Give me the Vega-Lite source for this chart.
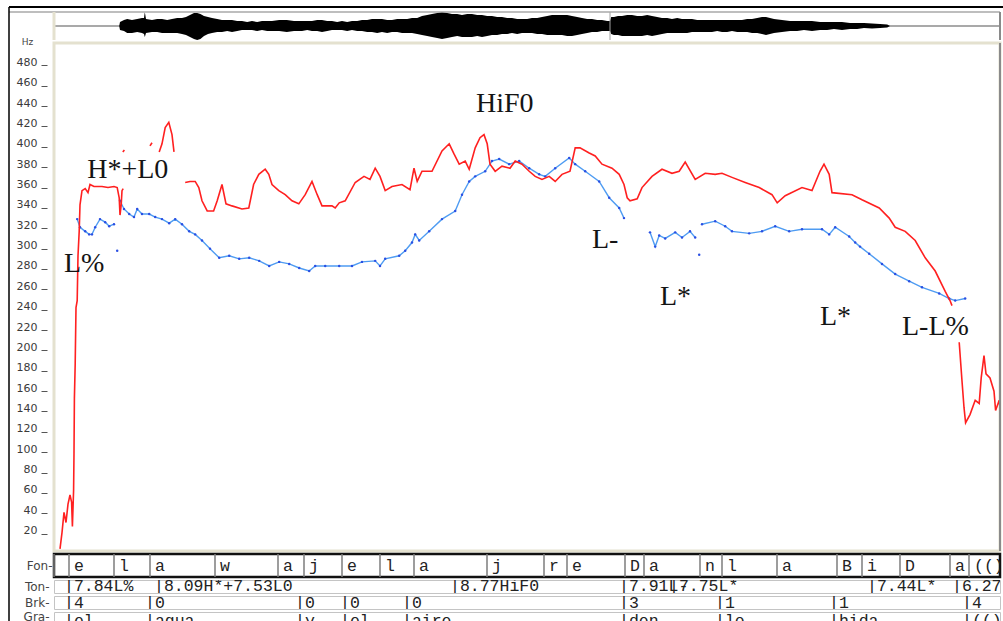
{
  "$schema": "https://vega.github.io/schema/vega-lite/v6.json",
  "background": "white",
  "padding": {"left": 6, "top": 5, "right": 0, "bottom": 0},
  "spacing": 3,
  "bounds": "flush",
  "config": {"view": {"stroke": null}, "axis": {"grid": false}},
  "datasets": {
    "wave": [
      {"ms":163,"hi":0,"lo":0},{"ms":165,"hi":4,"lo":-4},{"ms":175,"hi":6,"lo":-5},{"ms":183,"hi":7,"lo":-7},{"ms":195,"hi":6,"lo":-7},{"ms":208,"hi":7,"lo":-6},{"ms":220,"hi":8,"lo":-7},{"ms":225,"hi":8,"lo":-8},{"ms":227,"hi":14,"lo":-11},{"ms":230,"hi":7,"lo":-7},{"ms":245,"hi":6,"lo":-6},{"ms":258,"hi":7,"lo":-6},{"ms":270,"hi":7,"lo":-7},{"ms":283,"hi":6,"lo":-7},{"ms":295,"hi":7,"lo":-7},{"ms":308,"hi":8,"lo":-7},{"ms":320,"hi":8,"lo":-8},{"ms":330,"hi":9,"lo":-9},{"ms":340,"hi":11,"lo":-11},{"ms":350,"hi":13,"lo":-13},{"ms":358,"hi":13,"lo":-14},{"ms":366,"hi":12,"lo":-13},{"ms":375,"hi":10,"lo":-10},{"ms":385,"hi":9,"lo":-8},{"ms":395,"hi":8,"lo":-7},{"ms":408,"hi":7,"lo":-6},{"ms":420,"hi":6,"lo":-6},{"ms":433,"hi":6,"lo":-5},{"ms":445,"hi":6,"lo":-6},{"ms":458,"hi":5,"lo":-5},{"ms":470,"hi":5,"lo":-4},{"ms":483,"hi":4,"lo":-4},{"ms":495,"hi":5,"lo":-4},{"ms":508,"hi":4,"lo":-5},{"ms":520,"hi":5,"lo":-4},{"ms":533,"hi":5,"lo":-5},{"ms":545,"hi":5,"lo":-5},{"ms":563,"hi":6,"lo":-5},{"ms":582,"hi":6,"lo":-6},{"ms":600,"hi":5,"lo":-5},{"ms":620,"hi":5,"lo":-5},{"ms":633,"hi":5,"lo":-4},{"ms":645,"hi":5,"lo":-5},{"ms":658,"hi":6,"lo":-5},{"ms":670,"hi":6,"lo":-6},{"ms":683,"hi":5,"lo":-5},{"ms":695,"hi":5,"lo":-4},{"ms":708,"hi":4,"lo":-4},{"ms":720,"hi":5,"lo":-4},{"ms":733,"hi":4,"lo":-5},{"ms":745,"hi":5,"lo":-4},{"ms":758,"hi":5,"lo":-5},{"ms":770,"hi":6,"lo":-5},{"ms":783,"hi":6,"lo":-6},{"ms":795,"hi":7,"lo":-6},{"ms":808,"hi":7,"lo":-7},{"ms":820,"hi":7,"lo":-6},{"ms":833,"hi":6,"lo":-7},{"ms":845,"hi":6,"lo":-6},{"ms":858,"hi":7,"lo":-6},{"ms":870,"hi":7,"lo":-7},{"ms":883,"hi":7,"lo":-7},{"ms":895,"hi":8,"lo":-7},{"ms":908,"hi":8,"lo":-8},{"ms":920,"hi":10,"lo":-9},{"ms":933,"hi":11,"lo":-10},{"ms":945,"hi":12,"lo":-11},{"ms":958,"hi":13,"lo":-12},{"ms":970,"hi":14,"lo":-13},{"ms":983,"hi":13,"lo":-12},{"ms":995,"hi":12,"lo":-11},{"ms":1008,"hi":12,"lo":-10},{"ms":1020,"hi":11,"lo":-11},{"ms":1033,"hi":12,"lo":-11},{"ms":1045,"hi":12,"lo":-11},{"ms":1058,"hi":11,"lo":-10},{"ms":1070,"hi":11,"lo":-11},{"ms":1083,"hi":10,"lo":-10},{"ms":1095,"hi":10,"lo":-9},{"ms":1108,"hi":9,"lo":-9},{"ms":1120,"hi":9,"lo":-8},{"ms":1133,"hi":8,"lo":-8},{"ms":1145,"hi":8,"lo":-7},{"ms":1158,"hi":7,"lo":-8},{"ms":1170,"hi":7,"lo":-7},{"ms":1183,"hi":7,"lo":-7},{"ms":1195,"hi":8,"lo":-7},{"ms":1208,"hi":8,"lo":-8},{"ms":1220,"hi":9,"lo":-8},{"ms":1233,"hi":10,"lo":-9},{"ms":1245,"hi":11,"lo":-9},{"ms":1258,"hi":11,"lo":-9},{"ms":1270,"hi":11,"lo":-9},{"ms":1283,"hi":11,"lo":-10},{"ms":1295,"hi":10,"lo":-10},{"ms":1308,"hi":9,"lo":-9},{"ms":1320,"hi":8,"lo":-8},{"ms":1333,"hi":7,"lo":-7},{"ms":1345,"hi":7,"lo":-6},{"ms":1358,"hi":6,"lo":-6},{"ms":1370,"hi":6,"lo":-5},{"ms":1383,"hi":5,"lo":-5},{"ms":1390,"hi":5,"lo":-5},{"ms":1393,"hi":9,"lo":-8},{"ms":1400,"hi":9,"lo":-9},{"ms":1410,"hi":10,"lo":-9},{"ms":1420,"hi":10,"lo":-10},{"ms":1433,"hi":11,"lo":-10},{"ms":1445,"hi":11,"lo":-10},{"ms":1458,"hi":10,"lo":-10},{"ms":1470,"hi":10,"lo":-10},{"ms":1483,"hi":11,"lo":-9},{"ms":1495,"hi":10,"lo":-10},{"ms":1508,"hi":9,"lo":-9},{"ms":1520,"hi":8,"lo":-8},{"ms":1533,"hi":8,"lo":-7},{"ms":1545,"hi":7,"lo":-7},{"ms":1558,"hi":8,"lo":-7},{"ms":1570,"hi":7,"lo":-7},{"ms":1583,"hi":7,"lo":-7},{"ms":1595,"hi":7,"lo":-6},{"ms":1608,"hi":6,"lo":-6},{"ms":1620,"hi":6,"lo":-6},{"ms":1633,"hi":6,"lo":-6},{"ms":1645,"hi":6,"lo":-6},{"ms":1658,"hi":6,"lo":-5},{"ms":1670,"hi":6,"lo":-6},{"ms":1683,"hi":6,"lo":-6},{"ms":1695,"hi":6,"lo":-5},{"ms":1708,"hi":6,"lo":-6},{"ms":1720,"hi":6,"lo":-6},{"ms":1733,"hi":7,"lo":-6},{"ms":1745,"hi":7,"lo":-7},{"ms":1758,"hi":8,"lo":-7},{"ms":1770,"hi":9,"lo":-8},{"ms":1780,"hi":9,"lo":-9},{"ms":1790,"hi":8,"lo":-8},{"ms":1800,"hi":7,"lo":-7},{"ms":1820,"hi":6,"lo":-6},{"ms":1840,"hi":5,"lo":-5},{"ms":1858,"hi":5,"lo":-5},{"ms":1875,"hi":5,"lo":-4},{"ms":1895,"hi":5,"lo":-5},{"ms":1915,"hi":4,"lo":-4},{"ms":1933,"hi":4,"lo":-4},{"ms":1950,"hi":4,"lo":-3},{"ms":1970,"hi":4,"lo":-4},{"ms":1990,"hi":3,"lo":-3},{"ms":2008,"hi":3,"lo":-3},{"ms":2025,"hi":3,"lo":-2},{"ms":2045,"hi":2.5,"lo":-2.5},{"ms":2065,"hi":2,"lo":-2},{"ms":2083,"hi":1.5,"lo":-1.5},{"ms":2090,"hi":0,"lo":0}
    ],
    "red": [
      {"seg":1,"ms":15,"hz":2},{"seg":1,"ms":20,"hz":18},{"seg":1,"ms":25,"hz":38},{"seg":1,"ms":30,"hz":28},{"seg":1,"ms":35,"hz":46},{"seg":1,"ms":40,"hz":55},{"seg":1,"ms":44,"hz":48},{"seg":1,"ms":46,"hz":24},{"seg":1,"ms":49,"hz":60},{"seg":1,"ms":50,"hz":96},{"seg":1,"ms":51,"hz":150},{"seg":1,"ms":53,"hz":184},{"seg":1,"ms":55,"hz":239},{"seg":1,"ms":58,"hz":246},{"seg":1,"ms":60,"hz":290},{"seg":1,"ms":63,"hz":314},{"seg":1,"ms":65,"hz":340},{"seg":1,"ms":70,"hz":354},{"seg":1,"ms":78,"hz":356},{"seg":1,"ms":85,"hz":352},{"seg":1,"ms":90,"hz":360},{"seg":1,"ms":100,"hz":358},{"seg":1,"ms":110,"hz":358},{"seg":1,"ms":120,"hz":358},{"seg":1,"ms":135,"hz":357},{"seg":1,"ms":150,"hz":358},{"seg":1,"ms":158,"hz":357},{"seg":1,"ms":163,"hz":347},{"seg":1,"ms":165,"hz":330},{"seg":1,"ms":168,"hz":340},{"seg":1,"ms":170,"hz":354},{"seg":1,"ms":173,"hz":356},
      {"seg":2,"ms":172,"hz":392},{"seg":2,"ms":176,"hz":394},
      {"seg":3,"ms":240,"hz":398},{"seg":3,"ms":245,"hz":401},
      {"seg":4,"ms":263,"hz":392},{"seg":4,"ms":270,"hz":400},{"seg":4,"ms":278,"hz":416},{"seg":4,"ms":287,"hz":421},{"seg":4,"ms":295,"hz":409},{"seg":4,"ms":300,"hz":392},
      {"seg":5,"ms":328,"hz":362},{"seg":5,"ms":340,"hz":363},{"seg":5,"ms":353,"hz":363},{"seg":5,"ms":362,"hz":357},{"seg":5,"ms":370,"hz":344},{"seg":5,"ms":383,"hz":334},{"seg":5,"ms":399,"hz":334},{"seg":5,"ms":408,"hz":344},{"seg":5,"ms":420,"hz":360},{"seg":5,"ms":430,"hz":341},{"seg":5,"ms":445,"hz":339},{"seg":5,"ms":470,"hz":336},{"seg":5,"ms":487,"hz":337},{"seg":5,"ms":499,"hz":360},{"seg":5,"ms":512,"hz":370},{"seg":5,"ms":528,"hz":375},{"seg":5,"ms":537,"hz":370},{"seg":5,"ms":545,"hz":360},{"seg":5,"ms":562,"hz":354},{"seg":5,"ms":578,"hz":350},{"seg":5,"ms":595,"hz":344},{"seg":5,"ms":612,"hz":341},{"seg":5,"ms":628,"hz":350},{"seg":5,"ms":645,"hz":363},{"seg":5,"ms":658,"hz":350},{"seg":5,"ms":670,"hz":339},{"seg":5,"ms":695,"hz":339},{"seg":5,"ms":703,"hz":337},{"seg":5,"ms":713,"hz":342},{"seg":5,"ms":728,"hz":344},{"seg":5,"ms":753,"hz":362},{"seg":5,"ms":775,"hz":368},{"seg":5,"ms":790,"hz":365},{"seg":5,"ms":803,"hz":376},{"seg":5,"ms":815,"hz":368},{"seg":5,"ms":828,"hz":354},{"seg":5,"ms":845,"hz":358},{"seg":5,"ms":870,"hz":360},{"seg":5,"ms":890,"hz":355},{"seg":5,"ms":900,"hz":376},{"seg":5,"ms":908,"hz":363},{"seg":5,"ms":920,"hz":373},{"seg":5,"ms":945,"hz":373},{"seg":5,"ms":970,"hz":393},{"seg":5,"ms":988,"hz":400},{"seg":5,"ms":1000,"hz":390},{"seg":5,"ms":1013,"hz":380},{"seg":5,"ms":1028,"hz":383},{"seg":5,"ms":1038,"hz":375},{"seg":5,"ms":1053,"hz":396},{"seg":5,"ms":1065,"hz":406},{"seg":5,"ms":1075,"hz":409},{"seg":5,"ms":1083,"hz":400},{"seg":5,"ms":1090,"hz":380},{"seg":5,"ms":1103,"hz":373},{"seg":5,"ms":1120,"hz":378},{"seg":5,"ms":1140,"hz":376},{"seg":5,"ms":1153,"hz":383},{"seg":5,"ms":1170,"hz":380},{"seg":5,"ms":1188,"hz":373},{"seg":5,"ms":1203,"hz":368},{"seg":5,"ms":1220,"hz":365},{"seg":5,"ms":1238,"hz":368},{"seg":5,"ms":1253,"hz":363},{"seg":5,"ms":1270,"hz":370},{"seg":5,"ms":1290,"hz":373},{"seg":5,"ms":1303,"hz":396},{"seg":5,"ms":1315,"hz":396},{"seg":5,"ms":1338,"hz":391},{"seg":5,"ms":1353,"hz":388},{"seg":5,"ms":1370,"hz":380},{"seg":5,"ms":1395,"hz":376},{"seg":5,"ms":1413,"hz":370},{"seg":5,"ms":1425,"hz":360},{"seg":5,"ms":1433,"hz":347},{"seg":5,"ms":1440,"hz":344},{"seg":5,"ms":1458,"hz":346},{"seg":5,"ms":1470,"hz":357},{"seg":5,"ms":1495,"hz":368},{"seg":5,"ms":1520,"hz":375},{"seg":5,"ms":1545,"hz":371},{"seg":5,"ms":1563,"hz":373},{"seg":5,"ms":1578,"hz":382},{"seg":5,"ms":1603,"hz":365},{"seg":5,"ms":1628,"hz":371},{"seg":5,"ms":1653,"hz":370},{"seg":5,"ms":1670,"hz":371},{"seg":5,"ms":1695,"hz":367},{"seg":5,"ms":1728,"hz":362},{"seg":5,"ms":1763,"hz":357},{"seg":5,"ms":1795,"hz":350},{"seg":5,"ms":1808,"hz":342},{"seg":5,"ms":1828,"hz":349},{"seg":5,"ms":1870,"hz":357},{"seg":5,"ms":1895,"hz":354},{"seg":5,"ms":1915,"hz":373},{"seg":5,"ms":1925,"hz":380},{"seg":5,"ms":1938,"hz":370},{"seg":5,"ms":1945,"hz":352},{"seg":5,"ms":1995,"hz":350},{"seg":5,"ms":2020,"hz":345},{"seg":5,"ms":2063,"hz":337},{"seg":5,"ms":2088,"hz":327},{"seg":5,"ms":2103,"hz":318},{"seg":5,"ms":2128,"hz":314},{"seg":5,"ms":2153,"hz":305},{"seg":5,"ms":2178,"hz":288},{"seg":5,"ms":2203,"hz":275},{"seg":5,"ms":2228,"hz":255},{"seg":5,"ms":2240,"hz":246},{"seg":5,"ms":2245,"hz":241},
      {"seg":6,"ms":2263,"hz":205},{"seg":6,"ms":2270,"hz":167},{"seg":6,"ms":2275,"hz":141},{"seg":6,"ms":2279,"hz":126},{"seg":6,"ms":2290,"hz":134},{"seg":6,"ms":2303,"hz":148},{"seg":6,"ms":2313,"hz":145},{"seg":6,"ms":2318,"hz":170},{"seg":6,"ms":2325,"hz":192},{"seg":6,"ms":2330,"hz":174},{"seg":6,"ms":2340,"hz":170},{"seg":6,"ms":2350,"hz":157},{"seg":6,"ms":2354,"hz":138},{"seg":6,"ms":2363,"hz":148},{"seg":6,"ms":2365,"hz":141}
    ],
    "blue": [
      {"seg":1,"ms":58,"hz":326},{"seg":1,"ms":65,"hz":318},{"seg":1,"ms":78,"hz":314},{"seg":1,"ms":88,"hz":311},{"seg":1,"ms":95,"hz":311},{"seg":1,"ms":103,"hz":318},{"seg":1,"ms":115,"hz":326},{"seg":1,"ms":128,"hz":323},{"seg":1,"ms":138,"hz":319},{"seg":1,"ms":150,"hz":321},
      {"seg":2,"ms":158,"hz":295},
      {"seg":3,"ms":165,"hz":344},{"seg":3,"ms":175,"hz":336},{"seg":3,"ms":188,"hz":331},{"seg":3,"ms":200,"hz":328},{"seg":3,"ms":208,"hz":336},{"seg":3,"ms":220,"hz":331},{"seg":3,"ms":238,"hz":331},{"seg":3,"ms":253,"hz":328},{"seg":3,"ms":270,"hz":326},{"seg":3,"ms":288,"hz":322},{"seg":3,"ms":303,"hz":326},{"seg":3,"ms":320,"hz":321},{"seg":3,"ms":338,"hz":314},{"seg":3,"ms":353,"hz":311},{"seg":3,"ms":370,"hz":305},{"seg":3,"ms":390,"hz":297},{"seg":3,"ms":413,"hz":288},{"seg":3,"ms":438,"hz":290},{"seg":3,"ms":463,"hz":287},{"seg":3,"ms":488,"hz":288},{"seg":3,"ms":513,"hz":285},{"seg":3,"ms":538,"hz":280},{"seg":3,"ms":563,"hz":284},{"seg":3,"ms":588,"hz":282},{"seg":3,"ms":613,"hz":278},{"seg":3,"ms":638,"hz":275},{"seg":3,"ms":653,"hz":280},{"seg":3,"ms":678,"hz":280},{"seg":3,"ms":713,"hz":280},{"seg":3,"ms":745,"hz":280},{"seg":3,"ms":770,"hz":284},{"seg":3,"ms":803,"hz":285},{"seg":3,"ms":815,"hz":280},{"seg":3,"ms":828,"hz":287},{"seg":3,"ms":863,"hz":290},{"seg":3,"ms":878,"hz":295},{"seg":3,"ms":895,"hz":303},{"seg":3,"ms":903,"hz":311},{"seg":3,"ms":913,"hz":305},{"seg":3,"ms":938,"hz":314},{"seg":3,"ms":970,"hz":326},{"seg":3,"ms":1003,"hz":334},{"seg":3,"ms":1020,"hz":350},{"seg":3,"ms":1038,"hz":363},{"seg":3,"ms":1053,"hz":368},{"seg":3,"ms":1078,"hz":373},{"seg":3,"ms":1095,"hz":383},{"seg":3,"ms":1113,"hz":385},{"seg":3,"ms":1138,"hz":380},{"seg":3,"ms":1163,"hz":383},{"seg":3,"ms":1188,"hz":376},{"seg":3,"ms":1213,"hz":370},{"seg":3,"ms":1228,"hz":368},{"seg":3,"ms":1253,"hz":376},{"seg":3,"ms":1288,"hz":386},{"seg":3,"ms":1303,"hz":380},{"seg":3,"ms":1328,"hz":373},{"seg":3,"ms":1363,"hz":363},{"seg":3,"ms":1388,"hz":347},{"seg":3,"ms":1413,"hz":337},{"seg":3,"ms":1425,"hz":327},
      {"seg":4,"ms":1490,"hz":313},{"seg":4,"ms":1503,"hz":299},{"seg":4,"ms":1513,"hz":310},{"seg":4,"ms":1528,"hz":307},{"seg":4,"ms":1553,"hz":313},{"seg":4,"ms":1570,"hz":308},{"seg":4,"ms":1590,"hz":314},{"seg":4,"ms":1603,"hz":308},
      {"seg":5,"ms":1613,"hz":291},
      {"seg":6,"ms":1620,"hz":321},{"seg":6,"ms":1653,"hz":324},{"seg":6,"ms":1678,"hz":319},{"seg":6,"ms":1695,"hz":314},{"seg":6,"ms":1738,"hz":312},{"seg":6,"ms":1770,"hz":314},{"seg":6,"ms":1803,"hz":319},{"seg":6,"ms":1838,"hz":314},{"seg":6,"ms":1870,"hz":316},{"seg":6,"ms":1920,"hz":316},{"seg":6,"ms":1938,"hz":311},{"seg":6,"ms":1953,"hz":318},{"seg":6,"ms":1988,"hz":309},{"seg":6,"ms":2003,"hz":303},{"seg":6,"ms":2015,"hz":299},{"seg":6,"ms":2038,"hz":292},{"seg":6,"ms":2070,"hz":282},{"seg":6,"ms":2103,"hz":272},{"seg":6,"ms":2138,"hz":265},{"seg":6,"ms":2170,"hz":259},{"seg":6,"ms":2213,"hz":253},{"seg":6,"ms":2238,"hz":248},{"seg":6,"ms":2253,"hz":246},{"seg":6,"ms":2278,"hz":248}
    ],
    "notes": [
      {"ms":25,"hz":274,"label":"L%"},{"ms":83,"hz":366,"label":"H*+L0"},{"ms":1055,"hz":431,"label":"HiF0"},{"ms":1345,"hz":298,"label":"L-"},{"ms":1515,"hz":242,"label":"L*"},{"ms":1915,"hz":222,"label":"L*"},{"ms":2120,"hz":212,"label":"L-L%"}
    ],
    "fon": [
      {"tier":"Fon","start":0,"end":37.5,"label":""},{"tier":"Fon","start":37.5,"end":150,"label":"e"},{"tier":"Fon","start":150,"end":240,"label":"l"},{"tier":"Fon","start":240,"end":402.5,"label":"a"},{"tier":"Fon","start":402.5,"end":560,"label":"w"},{"tier":"Fon","start":560,"end":625,"label":"a"},{"tier":"Fon","start":625,"end":720,"label":"j"},{"tier":"Fon","start":720,"end":815,"label":"e"},{"tier":"Fon","start":815,"end":900,"label":"l"},{"tier":"Fon","start":900,"end":1082.5,"label":"a"},{"tier":"Fon","start":1082.5,"end":1225,"label":"j"},{"tier":"Fon","start":1225,"end":1282.5,"label":"r"},{"tier":"Fon","start":1282.5,"end":1427.5,"label":"e"},{"tier":"Fon","start":1427.5,"end":1475,"label":"D"},{"tier":"Fon","start":1475,"end":1615,"label":"a"},{"tier":"Fon","start":1615,"end":1670,"label":"n"},{"tier":"Fon","start":1670,"end":1807.5,"label":"l"},{"tier":"Fon","start":1807.5,"end":1957.5,"label":"a"},{"tier":"Fon","start":1957.5,"end":2020,"label":"B"},{"tier":"Fon","start":2020,"end":2115,"label":"i"},{"tier":"Fon","start":2115,"end":2240,"label":"D"},{"tier":"Fon","start":2240,"end":2287.5,"label":"a"},{"tier":"Fon","start":2287.5,"end":2365,"label":"(()"}
    ],
    "ton": [
      {"tier":"Ton","ms":37.5,"label":"|7.84L%"},{"tier":"Ton","ms":262.5,"label":"|8.09H*+7.53L0"},{"tier":"Ton","ms":1002.5,"label":"|8.77HiF0"},{"tier":"Ton","ms":1425,"label":"|7.91L-"},{"tier":"Ton","ms":1550,"label":"|7.75L*"},{"tier":"Ton","ms":2045,"label":"|7.44L*"},{"tier":"Ton","ms":2257.5,"label":"|6.27L%"}
    ],
    "brk": [
      {"tier":"Brk","ms":37.5,"label":"|4"},{"tier":"Brk","ms":240,"label":"|0"},{"tier":"Brk","ms":615,"label":"|0"},{"tier":"Brk","ms":727.5,"label":"|0"},{"tier":"Brk","ms":882.5,"label":"|0"},{"tier":"Brk","ms":1425,"label":"|3"},{"tier":"Brk","ms":1665,"label":"|1"},{"tier":"Brk","ms":1950,"label":"|1"},{"tier":"Brk","ms":2282.5,"label":"|4"}
    ],
    "gra": [
      {"tier":"Gra","ms":37.5,"label":"|el"},{"tier":"Gra","ms":240,"label":"|agua"},{"tier":"Gra","ms":615,"label":"|y"},{"tier":"Gra","ms":727.5,"label":"|el"},{"tier":"Gra","ms":882.5,"label":"|aire"},{"tier":"Gra","ms":1425,"label":"|den"},{"tier":"Gra","ms":1665,"label":"|lo"},{"tier":"Gra","ms":1950,"label":"|hida"},{"tier":"Gra","ms":2282.5,"label":"|(()"}
    ]
  },
  "vconcat": [
    {
      "width": 946,
      "height": 28,
      "layer": [
        {"data": {"values": [{}]}, "mark": {"type": "rule", "color": "#8c8c8c", "strokeWidth": 1.5},
         "encoding": {"y": {"datum": 0, "type": "quantitative", "scale": {"domain": [-14, 14]}, "axis": null}}},
        {"data": {"name": "wave"}, "mark": {"type": "area", "color": "#000000"},
         "encoding": {
           "x": {"field": "ms", "type": "quantitative", "scale": {"domain": [0, 2365]}, "axis": null},
           "y": {"field": "hi", "type": "quantitative", "scale": {"domain": [-14, 14]}, "axis": null},
           "y2": {"field": "lo"}}},
        {"data": {"values": [{}]}, "mark": {"type": "rule", "color": "#a0a0a0", "strokeWidth": 1},
         "encoding": {"x": {"datum": 1390, "type": "quantitative", "scale": {"domain": [0, 2365]}, "axis": null}}},
        {"data": {"values": [{}]}, "mark": {"type": "rule", "color": "#a8a8a8", "strokeWidth": 1.5},
         "encoding": {"x": {"datum": -112.5, "type": "quantitative", "scale": {"domain": [0, 2365]}, "axis": null}, "x2": {"datum": 2365},
                      "y": {"datum": 14, "type": "quantitative", "scale": {"domain": [-14, 14]}, "axis": null}}},
        {"data": {"values": [{}]}, "mark": {"type": "rule", "color": "#e4e1cf", "strokeWidth": 3},
         "encoding": {"x": {"datum": 0, "type": "quantitative", "scale": {"domain": [0, 2365]}, "axis": null}}},
        {"data": {"values": [{}]}, "mark": {"type": "rule", "color": "#8a8a8a", "strokeWidth": 2},
         "encoding": {"x": {"datum": 2365, "type": "quantitative", "scale": {"domain": [0, 2365]}, "axis": null}}},
        {"data": {"values": [{}]}, "mark": {"type": "rule", "color": "#000000", "strokeWidth": 2},
         "encoding": {"x": {"datum": -112.5, "type": "quantitative", "scale": {"domain": [0, 2365]}, "axis": null}, "x2": {"datum": 2372.5},
                      "y": {"datum": 19, "type": "quantitative", "scale": {"domain": [-14, 14]}, "axis": null}}},
        {"data": {"values": [{}]}, "mark": {"type": "rule", "color": "#000000", "strokeWidth": 1.5},
         "encoding": {"x": {"datum": -112.5, "type": "quantitative", "scale": {"domain": [0, 2365]}, "axis": null},
                      "y": {"datum": 19, "type": "quantitative", "scale": {"domain": [-14, 14]}, "axis": null}, "y2": {"datum": -14}}}
      ]
    },
    {
      "width": 946,
      "height": 508,
      "view": {"stroke": "#e4e1cf", "strokeWidth": 3},
      "layer": [
        {"data": {"name": "blue"}, "mark": {"type": "line", "color": "#4f9cf2", "strokeWidth": 1.4},
         "encoding": {
           "x": {"field": "ms", "type": "quantitative", "scale": {"domain": [0, 2365]}, "axis": null},
           "y": {"field": "hz", "type": "quantitative", "scale": {"domain": [0, 499]},
                 "axis": {"title": "Hz", "values": [20,40,60,80,100,120,140,160,180,200,220,240,260,280,300,320,340,360,380,400,420,440,460,480], "domain": false, "offset": 7, "tickSize": 6, "tickOffset": 3, "labelOffset": -3, "tickColor": "#555555", "tickWidth": 1, "labelPadding": 4, "labelFont": "DejaVu Sans", "labelFontSize": 11, "labelColor": "#3a3a3a", "titleAngle": 0, "titleX": -20, "titleY": -2, "titleAlign": "center", "titleBaseline": "middle", "titleFont": "DejaVu Sans", "titleFontSize": 9, "titleFontWeight": "normal", "titleColor": "#444444", "grid": false}},
           "detail": {"field": "seg", "type": "nominal"}}},
        {"data": {"name": "blue"}, "mark": {"type": "point", "filled": true, "color": "#2a4fe3", "size": 6, "opacity": 1},
         "encoding": {
           "x": {"field": "ms", "type": "quantitative", "scale": {"domain": [0, 2365]}, "axis": null},
           "y": {"field": "hz", "type": "quantitative", "scale": {"domain": [0, 499]},
                 "axis": {"title": "Hz", "values": [20,40,60,80,100,120,140,160,180,200,220,240,260,280,300,320,340,360,380,400,420,440,460,480], "domain": false, "offset": 7, "tickSize": 6, "tickOffset": 3, "labelOffset": -3, "tickColor": "#555555", "tickWidth": 1, "labelPadding": 4, "labelFont": "DejaVu Sans", "labelFontSize": 11, "labelColor": "#3a3a3a", "titleAngle": 0, "titleX": -20, "titleY": -2, "titleAlign": "center", "titleBaseline": "middle", "titleFont": "DejaVu Sans", "titleFontSize": 9, "titleFontWeight": "normal", "titleColor": "#444444", "grid": false}}}},
        {"data": {"name": "red"}, "mark": {"type": "line", "color": "#ff2020", "strokeWidth": 1.6},
         "encoding": {
           "x": {"field": "ms", "type": "quantitative", "scale": {"domain": [0, 2365]}, "axis": null},
           "y": {"field": "hz", "type": "quantitative", "scale": {"domain": [0, 499]},
                 "axis": {"title": "Hz", "values": [20,40,60,80,100,120,140,160,180,200,220,240,260,280,300,320,340,360,380,400,420,440,460,480], "domain": false, "offset": 7, "tickSize": 6, "tickOffset": 3, "labelOffset": -3, "tickColor": "#555555", "tickWidth": 1, "labelPadding": 4, "labelFont": "DejaVu Sans", "labelFontSize": 11, "labelColor": "#3a3a3a", "titleAngle": 0, "titleX": -20, "titleY": -2, "titleAlign": "center", "titleBaseline": "middle", "titleFont": "DejaVu Sans", "titleFontSize": 9, "titleFontWeight": "normal", "titleColor": "#444444", "grid": false}},
           "detail": {"field": "seg", "type": "nominal"}}},
        {"data": {"name": "notes"}, "mark": {"type": "text", "font": "Liberation Serif", "fontSize": 28, "color": "#141414", "align": "left", "baseline": "alphabetic"},
         "encoding": {
           "x": {"field": "ms", "type": "quantitative", "scale": {"domain": [0, 2365]}, "axis": null},
           "y": {"field": "hz", "type": "quantitative", "scale": {"domain": [0, 499]},
                 "axis": {"title": "Hz", "values": [20,40,60,80,100,120,140,160,180,200,220,240,260,280,300,320,340,360,380,400,420,440,460,480], "domain": false, "offset": 7, "tickSize": 6, "tickOffset": 3, "labelOffset": -3, "tickColor": "#555555", "tickWidth": 1, "labelPadding": 4, "labelFont": "DejaVu Sans", "labelFontSize": 11, "labelColor": "#3a3a3a", "titleAngle": 0, "titleX": -20, "titleY": -2, "titleAlign": "center", "titleBaseline": "middle", "titleFont": "DejaVu Sans", "titleFontSize": 9, "titleFontWeight": "normal", "titleColor": "#444444", "grid": false}},
           "text": {"field": "label"}}},
        {"data": {"values": [{}]}, "mark": {"type": "rule", "color": "#8a8a8a", "strokeWidth": 2},
         "encoding": {"x": {"datum": 2365, "type": "quantitative", "scale": {"domain": [0, 2365]}, "axis": null}}},
        {"data": {"values": [{}]}, "mark": {"type": "rule", "color": "#000000", "strokeWidth": 1.5},
         "encoding": {"x": {"datum": -112.5, "type": "quantitative", "scale": {"domain": [0, 2365]}, "axis": null},
                      "y": {"datum": 502, "type": "quantitative", "scale": {"domain": [0, 499]},
                            "axis": {"title": "Hz", "values": [20,40,60,80,100,120,140,160,180,200,220,240,260,280,300,320,340,360,380,400,420,440,460,480], "domain": false, "offset": 7, "tickSize": 6, "tickOffset": 3, "labelOffset": -3, "tickColor": "#555555", "tickWidth": 1, "labelPadding": 4, "labelFont": "DejaVu Sans", "labelFontSize": 11, "labelColor": "#3a3a3a", "titleAngle": 0, "titleX": -20, "titleY": -2, "titleAlign": "center", "titleBaseline": "middle", "titleFont": "DejaVu Sans", "titleFontSize": 9, "titleFontWeight": "normal", "titleColor": "#444444", "grid": false}},
                      "y2": {"datum": -69}}}
      ]
    },
    {
      "width": 946,
      "height": 23,
      "view": {"stroke": "#111111", "strokeWidth": 2.5},
      "data": {"name": "fon"},
      "layer": [
        {"mark": {"type": "rule", "color": "#7d7d7d", "strokeWidth": 1.5},
         "encoding": {"x": {"field": "start", "type": "quantitative", "scale": {"domain": [0, 2365]}, "axis": null}}},
        {"mark": {"type": "text", "font": "Liberation Mono", "fontSize": 16.5, "color": "#222222", "align": "left", "dx": 5, "clip": true},
         "encoding": {
           "x": {"field": "start", "type": "quantitative", "scale": {"domain": [0, 2365]}, "axis": null},
           "y": {"field": "tier", "type": "nominal", "axis": {"title": null, "domain": false, "ticks": false, "labelPadding": 2, "labelFont": "DejaVu Sans", "labelFontSize": 12, "labelColor": "#444444", "labelExpr": "datum.label + '-'"}},
           "text": {"field": "label"}}}
      ]
    },
    {
      "width": 946,
      "height": 13,
      "view": {"stroke": "#c4c4c4", "strokeWidth": 1},
      "data": {"name": "ton"},
      "mark": {"type": "text", "font": "Liberation Mono", "fontSize": 16.5, "color": "#222222", "align": "left", "dx": -5, "dy": -1, "clip": true},
      "encoding": {
        "x": {"field": "ms", "type": "quantitative", "scale": {"domain": [0, 2365]}, "axis": null},
        "y": {"field": "tier", "type": "nominal", "axis": {"title": null, "domain": false, "ticks": false, "labelPadding": 5, "labelFont": "DejaVu Sans", "labelFontSize": 12, "labelColor": "#444444", "labelExpr": "datum.label + '-'"}},
        "text": {"field": "label"}}
    },
    {
      "width": 946,
      "height": 13,
      "view": {"stroke": "#c4c4c4", "strokeWidth": 1},
      "data": {"name": "brk"},
      "mark": {"type": "text", "font": "Liberation Mono", "fontSize": 16.5, "color": "#222222", "align": "left", "dx": -5, "clip": true},
      "encoding": {
        "x": {"field": "ms", "type": "quantitative", "scale": {"domain": [0, 2365]}, "axis": null},
        "y": {"field": "tier", "type": "nominal", "axis": {"title": null, "domain": false, "ticks": false, "labelPadding": 5, "labelFont": "DejaVu Sans", "labelFontSize": 12, "labelColor": "#444444", "labelExpr": "datum.label + '-'"}},
        "text": {"field": "label"}}
    },
    {
      "width": 946,
      "height": 10,
      "view": {"stroke": "#c4c4c4", "strokeWidth": 1},
      "data": {"name": "gra"},
      "mark": {"type": "text", "font": "Liberation Mono", "fontSize": 16.5, "color": "#222222", "align": "left", "dx": -5, "dy": 4, "clip": true},
      "encoding": {
        "x": {"field": "ms", "type": "quantitative", "scale": {"domain": [0, 2365]}, "axis": null},
        "y": {"field": "tier", "type": "nominal", "axis": {"title": null, "domain": false, "ticks": false, "labelPadding": 5, "labelOffset": -1, "labelFont": "DejaVu Sans", "labelFontSize": 12, "labelColor": "#444444", "labelExpr": "datum.label + '-'"}},
        "text": {"field": "label"}}
    }
  ]
}
